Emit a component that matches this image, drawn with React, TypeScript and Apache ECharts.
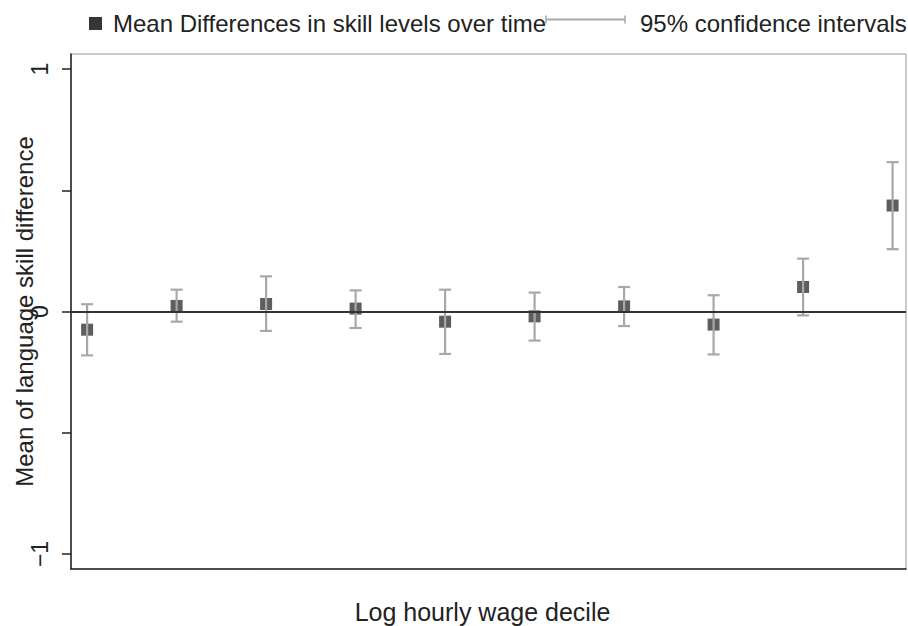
import React, { useEffect, useRef } from "react";
import * as echarts from "echarts";

const deciles = [1, 2, 3, 4, 5, 6, 7, 8, 9, 10];
const means = [-0.075, 0.023, 0.031, 0.012, -0.042, -0.02, 0.021, -0.054, 0.101, 0.437];
const ciLow = [-0.181, -0.042, -0.08, -0.068, -0.175, -0.12, -0.06, -0.177, -0.016, 0.257];
const ciHigh = [0.03, 0.09, 0.145, 0.087, 0.09, 0.078, 0.101, 0.067, 0.218, 0.616];
const yLabelValues = [-1, 0, 1];
const yTickValues = [-1, -0.5, 0, 0.5, 1];
const meanName = "Mean Differences in skill levels over time";
const ciName = "95% confidence intervals";
const xTitle = "Log hourly wage decile";
const yTitle = "Mean of language skill difference";

const FONT = "'Liberation Sans', Arial, Helvetica, sans-serif";
const MARK = "#363636";
const BAR = "#a8a8a8";
const INK = "#222222";

export default function App() {
  const ref = useRef<HTMLDivElement>(null);
  useEffect(() => {
    if (!ref.current) return;
    const chart = echarts.init(ref.current, null, { renderer: "svg" });
    const meanData = deciles.map((d, i) => [d, means[i]]);
    const ciData = deciles.map((d, i) => [d, ciLow[i], ciHigh[i]]);
    chart.setOption({
      animation: false,
      backgroundColor: "#ffffff",
      textStyle: { fontFamily: FONT },
      grid: {
        left: 71,
        top: 54,
        right: 2,
        bottom: 57,
        containLabel: false,
        outerBoundsMode: "none",
        show: true,
        borderColor: "#9a9a9a",
        borderWidth: 1,
        backgroundColor: "#ffffff",
      },
      xAxis: {
        type: "value",
        min: 0.82,
        max: 10.15,
        name: xTitle,
        nameLocation: "middle",
        nameGap: 30,
        nameMoveOverlap: false,
        nameTextStyle: { fontSize: 25, color: INK, fontFamily: FONT, padding: [0, 12, 0, 0] },
        axisLine: { show: true, onZero: false, lineStyle: { color: INK, width: 1.5 } },
        axisTick: { show: false },
        axisLabel: { show: false },
        splitLine: { show: false },
      },
      yAxis: {
        type: "value",
        min: -1.062,
        max: 1.062,
        name: yTitle,
        nameLocation: "middle",
        nameGap: 35,
        nameRotate: 90,
        nameMoveOverlap: false,
        nameTextStyle: { fontSize: 24, color: INK, fontFamily: FONT },
        axisLine: { show: true, onZero: false, lineStyle: { color: INK, width: 1.5 } },
        axisTick: {
          show: true,
          length: 9,
          customValues: yTickValues,
          lineStyle: { color: INK, width: 1.5 },
        },
        axisLabel: {
          show: true,
          rotate: 90,
          margin: 20,
          fontSize: 23,
          color: INK,
          fontFamily: FONT,
          align: "center",
          verticalAlign: "bottom",
          hideOverlap: false,
          showMinLabel: true,
          showMaxLabel: true,
          customValues: yLabelValues,
          formatter: (v: number) => (v < 0 ? "\u2212" + Math.abs(v) : String(v)),
        },
        splitLine: { show: false },
      },
      series: [
        {
          name: meanName,
          type: "scatter",
          data: meanData,
          symbol: "rect",
          symbolSize: 12,
          itemStyle: { color: MARK },
          z: 2,
          markLine: {
            silent: true,
            symbol: "none",
            label: { show: false },
            lineStyle: { color: "#333333", width: 2, type: "solid" },
            data: [{ yAxis: 0 }],
          },
        },
        {
          name: ciName,
          type: "custom",
          z: 3,
          data: ciData,
          renderItem: (params: any, api: any) => {
            const x = api.value(0);
            const lo = api.coord([x, api.value(1)]);
            const hi = api.coord([x, api.value(2)]);
            const hw = 6;
            const style = { stroke: BAR, lineWidth: 2.2 };
            return {
              type: "group",
              children: [
                { type: "line", shape: { x1: lo[0], y1: lo[1], x2: hi[0], y2: hi[1] }, style },
                { type: "line", shape: { x1: hi[0] - hw, y1: hi[1], x2: hi[0] + hw, y2: hi[1] }, style },
                { type: "line", shape: { x1: lo[0] - hw, y1: lo[1], x2: lo[0] + hw, y2: lo[1] }, style },
              ],
            };
          },
        },
      ],
      graphic: [
        { type: "rect", shape: { x: 89, y: 17, width: 13, height: 13 }, style: { fill: MARK } },
        {
          type: "text",
          x: 113,
          y: 23,
          style: { text: meanName, fontSize: 24, fontFamily: FONT, fill: INK, textVerticalAlign: "middle", verticalAlign: "middle" },
        },
        { type: "line", shape: { x1: 546, y1: 19.5, x2: 625, y2: 19.5 }, style: { stroke: BAR, lineWidth: 2 } },
        { type: "line", shape: { x1: 546, y1: 15.5, x2: 546, y2: 23.5 }, style: { stroke: BAR, lineWidth: 1.5 } },
        { type: "line", shape: { x1: 625, y1: 15.5, x2: 625, y2: 23.5 }, style: { stroke: BAR, lineWidth: 1.5 } },
        {
          type: "text",
          x: 640,
          y: 23,
          style: { text: ciName, fontSize: 24, fontFamily: FONT, fill: INK, textVerticalAlign: "middle", verticalAlign: "middle" },
        },
      ],
    });
    return () => chart.dispose();
  }, []);
  return (
    <div
      ref={ref}
      style={{ position: "fixed", left: 0, top: 0, width: 908, height: 626, background: "#fff" }}
    />
  );
}
